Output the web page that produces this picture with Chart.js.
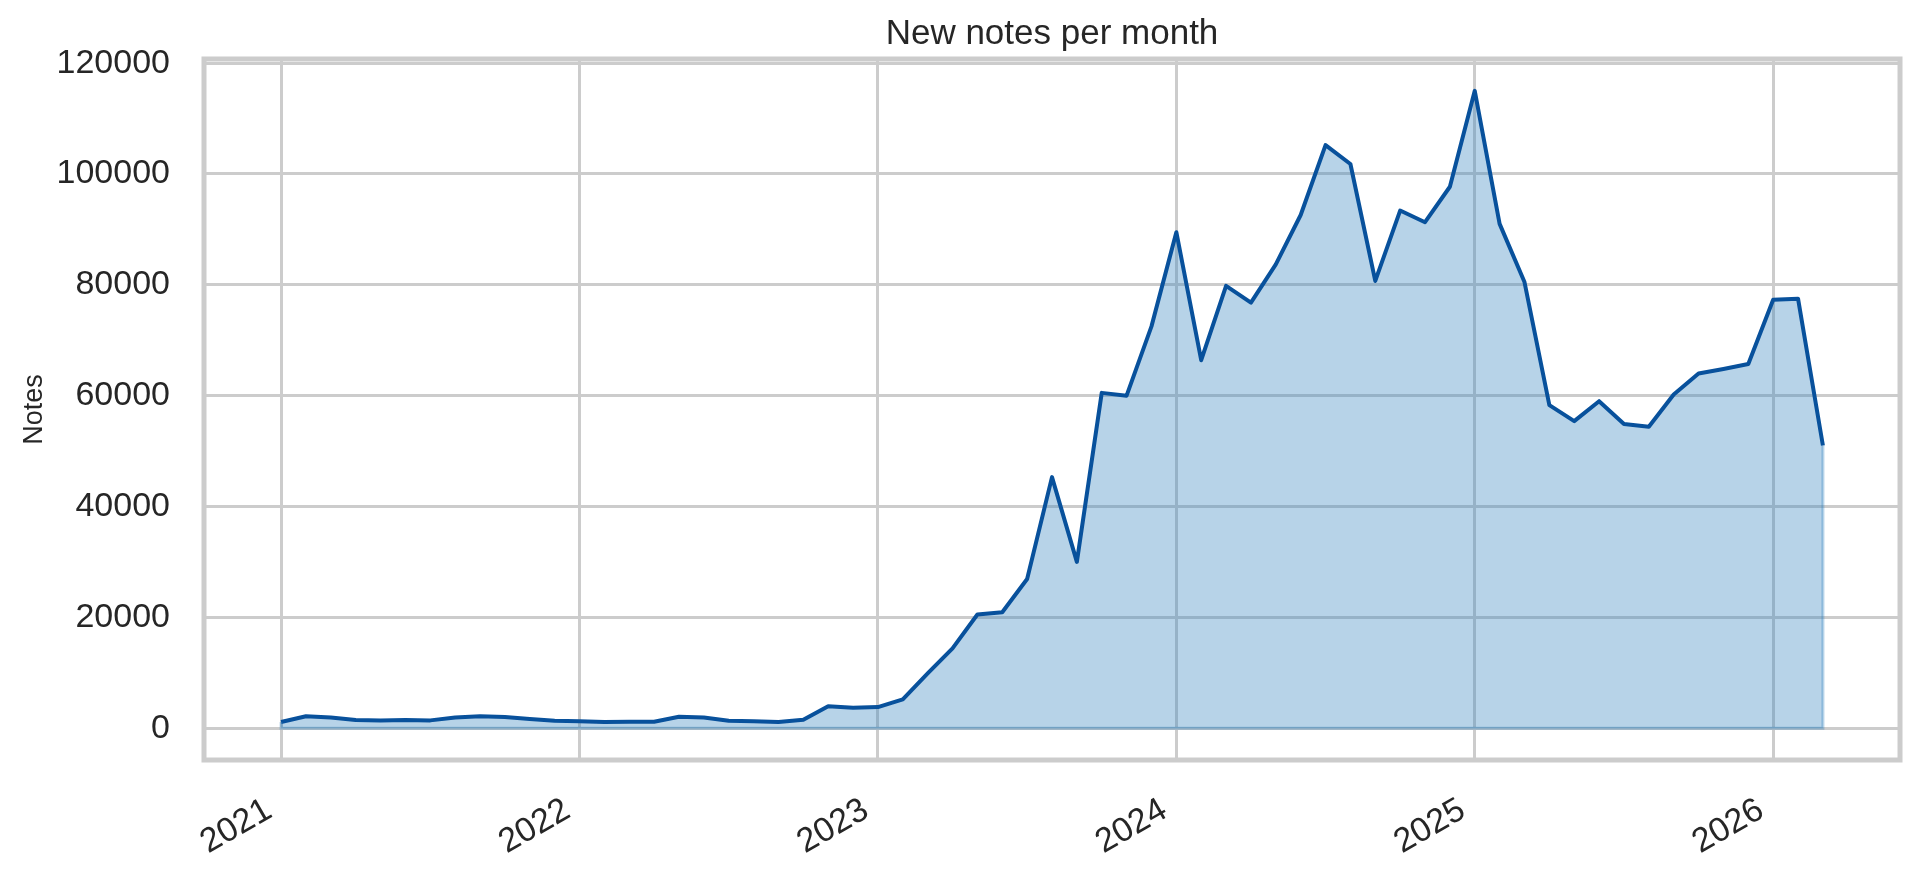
<!DOCTYPE html>
<html>
<head>
<meta charset="utf-8">
<title>New notes per month</title>
<script src="https://cdn.jsdelivr.net/npm/chart.js@4.4.1/dist/chart.umd.min.js"></script>
<style>
  html, body { margin: 0; padding: 0; background: #ffffff; }
  #wrap { width: 1920px; height: 874px; position: relative; }
</style>
</head>
<body>
<div id="wrap"><canvas id="notesChart"></canvas></div>
<script>
// Months (categories), Jan 2021 - Mar 2026
const months = [
    '2021-01', '2021-02', '2021-03', '2021-04', '2021-05', '2021-06', '2021-07', '2021-08', '2021-09', '2021-10', '2021-11', '2021-12',
    '2022-01', '2022-02', '2022-03', '2022-04', '2022-05', '2022-06', '2022-07', '2022-08', '2022-09', '2022-10', '2022-11', '2022-12',
    '2023-01', '2023-02', '2023-03', '2023-04', '2023-05', '2023-06', '2023-07', '2023-08', '2023-09', '2023-10', '2023-11', '2023-12',
    '2024-01', '2024-02', '2024-03', '2024-04', '2024-05', '2024-06', '2024-07', '2024-08', '2024-09', '2024-10', '2024-11', '2024-12',
    '2025-01', '2025-02', '2025-03', '2025-04', '2025-05', '2025-06', '2025-07', '2025-08', '2025-09', '2025-10', '2025-11', '2025-12',
    '2026-01', '2026-02', '2026-03'
];

// New notes per month
const notes = [
    1100, 2150, 1900, 1450, 1400, 1450, 1400, 1900, 2150, 2000, 1650, 1350,
    1250, 1100, 1150, 1150, 2050, 1900, 1350, 1250, 1100, 1500, 3950, 3700,
    3800, 5200, 9900, 14400, 20500, 20900, 26900, 45300, 30000, 60500, 60000, 72500,
    89500, 66400, 79800, 76800, 83700, 92600, 105200, 101800, 80700, 93400, 91300, 97700,
    115000, 91000, 80500, 58300, 55400, 59000, 54900, 54400, 60200, 64000, 64800, 65700,
    77300, 77500, 51000
];

// Tick labels
const yearTicks = [2021, 2022, 2023, 2024, 2025, 2026];
const yTicks = [0, 20000, 40000, 60000, 80000, 100000, 120000];

const FIRST_YEAR = 2021;
const GRID = '#cccccc';
const TEXT = '#262626';

// months since Jan 2021
function monthIndex(label) {
    const parts = label.split('-').map(Number);
    return (parts[0] - FIRST_YEAR) * 12 + (parts[1] - 1);
}

const points = months.map((m, i) => ({ x: monthIndex(m), y: notes[i] }));

// matplotlib-style 5% margins
const xFirst = points[0].x;
const xLast = points[points.length - 1].x;
const xPad = (xLast - xFirst) * 0.05;
const yMaxVal = Math.max(...notes);
const yPad = yMaxVal * 0.05;

// Frame round the axes and the edge of the filled area
const framePlugin = {
    id: 'frame',
    afterDatasetsDraw(chart) {
        const ctx = chart.ctx;
        const xs = chart.scales.x;
        const ys = chart.scales.y;
        const x0 = xs.getPixelForValue(xFirst);
        const xN = xs.getPixelForValue(xLast);
        const base = ys.getPixelForValue(0);
        ctx.save();
        ctx.strokeStyle = 'rgba(49, 130, 189, 0.35)';
        ctx.lineWidth = 3;
        ctx.beginPath();
        ctx.moveTo(x0, ys.getPixelForValue(notes[0]));
        ctx.lineTo(x0, base);
        ctx.lineTo(xN, base);
        ctx.lineTo(xN, ys.getPixelForValue(notes[notes.length - 1]));
        ctx.stroke();
        ctx.restore();
    },
    afterDraw(chart) {
        const a = chart.chartArea;
        const ctx = chart.ctx;
        ctx.save();
        ctx.strokeStyle = GRID;
        ctx.lineWidth = 5;
        ctx.strokeRect(a.left, a.top, a.right - a.left, a.bottom - a.top);
        ctx.restore();
    }
};

Chart.defaults.font.family = "'Liberation Sans', Arial, sans-serif";
Chart.defaults.color = TEXT;

const chart = new Chart(document.getElementById('notesChart'), {
    type: 'line',
    data: {
        datasets: [{
            label: 'Notes',
            data: points,
            borderColor: '#08519c',
            borderWidth: 4,
            borderJoinStyle: 'round',
            backgroundColor: 'rgba(49, 130, 189, 0.35)',
            fill: 'origin',
            pointRadius: 0,
            tension: 0
        }]
    },
    options: {
        responsive: true,
        maintainAspectRatio: false,
        animation: false,
        devicePixelRatio: 1,
        layout: {
            padding: { left: 0, right: 20, top: 0, bottom: 0 }
        },
        plugins: {
            legend: { display: false },
            tooltip: { enabled: false },
            title: {
                display: true,
                fullSize: false,   // centre over the plot area, like matplotlib
                text: 'New notes per month',
                color: TEXT,
                font: { size: 35, weight: 'normal', lineHeight: 1.2 },
                padding: { top: 13, bottom: 4 }
            }
        },
        scales: {
            x: {
                type: 'linear',
                min: xFirst - xPad,
                max: xLast + xPad,
                afterFit(scale) { scale.height = 114; },
                afterBuildTicks(scale) {
                    scale.ticks = yearTicks.map(y => ({ value: (y - FIRST_YEAR) * 12 }));
                },
                grid: { color: GRID, lineWidth: 3, drawTicks: false },
                border: { display: false },
                ticks: {
                    autoSkip: false,
                    minRotation: 30,
                    maxRotation: 30,
                    padding: 30,
                    labelOffset: -12,
                    color: TEXT,
                    font: { size: 34 },
                    callback: value => String(FIRST_YEAR + value / 12)
                }
            },
            y: {
                type: 'linear',
                min: -yPad,
                max: yMaxVal + yPad,
                afterFit(scale) { scale.width = 204; },
                afterBuildTicks(scale) {
                    scale.ticks = yTicks.map(v => ({ value: v }));
                },
                grid: { color: GRID, lineWidth: 3, drawTicks: false },
                border: { display: false },
                title: {
                    display: true,
                    text: 'Notes',
                    color: TEXT,
                    font: { size: 27 },
                    padding: { top: 18, bottom: 0 }
                },
                ticks: {
                    padding: 34,
                    color: TEXT,
                    font: { size: 34 },
                    callback: value => String(value)
                }
            }
        }
    },
    plugins: [framePlugin]
});
</script>
</body>
</html>
